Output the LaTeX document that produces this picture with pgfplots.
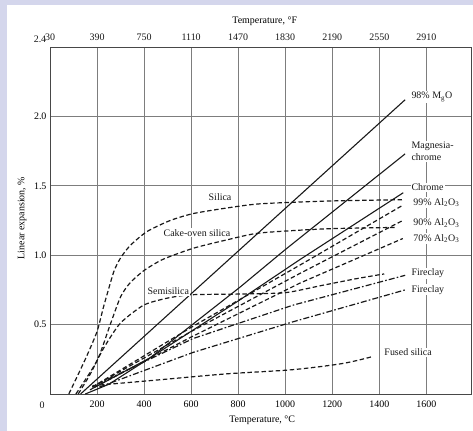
\documentclass[border=0pt]{standalone}
\usepackage{fontspec}
\setmainfont{Liberation Serif}
\usepackage{pgfplots}
\pgfplotsset{compat=1.18}
\definecolor{bgband}{RGB}{212,214,236}
\definecolor{gridc}{RGB}{125,125,125}
\definecolor{ink}{RGB}{25,25,25}

\pgfplotsset{
  solidln/.style={ink, line width=1.1pt},
  dashln/.style={ink, line width=1.2pt, dash pattern=on 4.5pt off 2.6pt},
  dotdashln/.style={ink, line width=1.2pt, dash pattern=on 6pt off 2.2pt on 1.6pt off 2.2pt},
}
\tikzset{lbl/.style={fill=white, inner sep=1pt, text=ink}}

\begin{document}
\begin{tikzpicture}[font=\fontsize{10}{12.5}\selectfont]
\fill[bgband] (-50bp,-37bp) rectangle (423bp,394bp);
\fill[white] (-43bp,-37bp) rectangle (423bp,389bp);

\begin{axis}[
  at={(0,0)}, anchor=south west,
  scale only axis, width=421bp, height=347bp,
  xmin=0, xmax=1790, ymin=0, ymax=2.5,
  xtick={200,400,...,1600}, ytick={0.5,1.0,1.5,2.0},
  /pgf/number format/assume math mode=true,
  yticklabel style={/pgf/number format/.cd, fixed, fixed zerofill, precision=1},
  xticklabel style={/pgf/number format/1000 sep={}, yshift=-3bp},
  grid=major, major grid style={gridc, line width=0.6pt},
  major tick length=0pt,
  axis line style={ink!80, line width=0.9pt},
  xlabel={Temperature, °C},
  ylabel={Linear expansion, \%},
  xlabel style={at={(axis description cs:0.504,0)}, anchor=center, yshift=-26bp},
  ylabel style={at={(axis description cs:-0.066,0.507)}, anchor=center},
  clip=false,
]
% 98% MgO
\addplot[solidln] coordinates {(130,0) (1510,2.12)};
% Magnesia-chrome
\addplot[solidln] coordinates {(150,0) (250,0.07) (425,0.26) (808,0.77) (1000,1.04) (1510,1.73)};
% Chrome
\addplot[solidln] coordinates {(170,0.03) (425,0.26) (800,0.67) (1064,0.97) (1502,1.45)};
% Silica
\addplot[dashln, smooth, tension=0.4] coordinates {(80,0) (150,0.25) (200,0.45) (228,0.63) (271,0.88) (300,0.98) (341,1.07) (412,1.17) (511,1.25) (609,1.30) (751,1.34) (892,1.37) (1174,1.39) (1505,1.40)};
% Cake-oven silica
\addplot[dashln, smooth, tension=0.4] coordinates {(110,0) (200,0.24) (256,0.50) (300,0.70) (340,0.80) (400,0.89) (480,0.97) (609,1.05) (751,1.11) (892,1.16) (1174,1.19) (1470,1.20)};
% Semisilica
\addplot[dashln, smooth, tension=0.4] coordinates {(120,0) (170,0.14) (228,0.33) (299,0.51) (398,0.64) (497,0.69) (600,0.715) (800,0.72) (1000,0.73) (1150,0.78) (1300,0.83) (1421,0.865)};
% 99% Al2O3
\addplot[dashln] coordinates {(180,0.05) (600,0.48) (1064,0.93) (1500,1.36)};
% 90% Al2O3
\addplot[dashln] coordinates {(180,0.05) (600,0.45) (1064,0.87) (1500,1.25)};
% 70% Al2O3
\addplot[dashln] coordinates {(190,0.05) (600,0.41) (1064,0.80) (1500,1.12)};
% Fireclay (upper)
\addplot[dotdashln] coordinates {(200,0.07) (609,0.40) (1033,0.64) (1510,0.855)};
% Fireclay (lower)
\addplot[dotdashln] coordinates {(210,0.05) (609,0.30) (1033,0.52) (1510,0.75)};
% Fused silica
\addplot[dashln, smooth, tension=0.5] coordinates {(180,0.06) (450,0.10) (750,0.145) (1030,0.175) (1245,0.22) (1372,0.27)};

\node[lbl, anchor=west] at (axis cs:1532,2.14) {98\% M\textsubscript{g}O};
\node[lbl, anchor=west, align=left] at (axis cs:1532,1.75) {Magnesia-\\chrome};
\node[lbl, anchor=west] at (axis cs:1532,1.49) {Chrome};
\node[lbl, anchor=west] at (axis cs:1540,1.38) {99\% Al\textsubscript{2}O\textsubscript{3}};
\node[lbl, anchor=west] at (axis cs:1540,1.23) {90\% Al\textsubscript{2}O\textsubscript{3}};
\node[lbl, anchor=west] at (axis cs:1540,1.12) {70\% Al\textsubscript{2}O\textsubscript{3}};
\node[lbl, anchor=west] at (axis cs:1532,0.87) {Fireclay};
\node[lbl, anchor=west] at (axis cs:1532,0.75) {Fireclay};
\node[lbl, anchor=west] at (axis cs:1417,0.30) {Fused silica};
\node[lbl] at (axis cs:723,1.42) {Silica};
\node[lbl] at (axis cs:625,1.16) {Cake-oven silica};
\node[lbl] at (axis cs:503,0.74) {Semisilica};
\node[text=ink] at (axis description cs:0,0) [xshift=-8bp, yshift=-11bp] {0};
\node[text=ink] at (axis description cs:0,1) [xshift=-10bp, yshift=8bp] {2.4};
\end{axis}

\begin{axis}[
  at={(0,0)}, anchor=south west,
  scale only axis, width=421bp, height=347bp,
  xmin=0, xmax=1790, ymin=0, ymax=2.5,
  axis x line*=top, hide y axis,
  xtick={0,200,...,1600},
  xticklabels={30,390,750,1110,1470,1830,2190,2550,2910},
  major tick length=0pt,
  axis line style={ink!80, line width=0.9pt},
  xticklabel style={yshift=3bp, text=ink},
  xlabel={Temperature, °F},
  xlabel style={at={(axis description cs:0.51,1)}, anchor=center, yshift=26bp},
]
\end{axis}
\pgfresetboundingbox
\path (-50bp,-37bp) rectangle (423bp,394bp);
\end{tikzpicture}
\end{document}
